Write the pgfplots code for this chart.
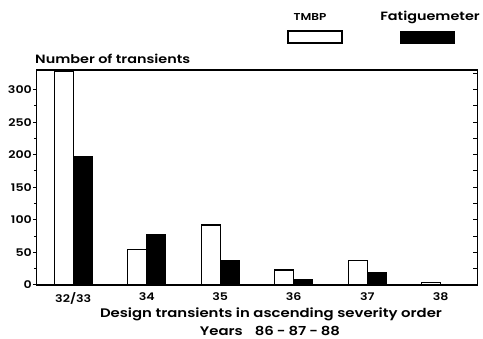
\documentclass[border=0pt]{standalone}
\usepackage{fontspec}
\setmainfont{Poppins}[BoldFont=* SemiBold, FakeStretch=1.2]
\usepackage{pgfplots}
\pgfplotsset{compat=1.18}
\begin{document}
\begin{tikzpicture}[x=1pt,y=1pt]
\useasboundingbox (0,0) rectangle (483,339);
\begin{axis}[at={(36.5pt,54pt)}, anchor=south west, width=441pt, height=215pt, scale only axis,
 xmin=-0.5, xmax=5.5, ymin=0, ymax=330,
 xtick={0,...,5}, xticklabels={32/33,34,35,36,37,38}, xtick pos=bottom,
 major x tick style={draw=none},
 ytick={0,50,...,300}, minor y tick num=1, ytick pos=left, tick align=outside,
 major tick length=3.5pt, minor tick length=2.5pt,
 axis line style={line width=1.3pt}, every tick/.style={line width=1pt,black},
 /pgf/number format/assume math mode=true,
 ticklabel style={font=\bfseries\fontsize{10.5}{12}\selectfont},
 yticklabel style={inner sep=1pt},
 xticklabel style={yshift=-1pt},
 ybar, bar width=0.26,
]
\addplot[draw=black, fill=white, line width=1.2pt, bar shift=-0.13] coordinates {(0,328) (1,54) (2,92) (3,23) (4,37) (5,4)};
\addplot[draw=black, fill=black, line width=0.8pt, bar shift=0.13] coordinates {(0,197) (1,77) (2,37) (3,9) (4,19)};
\end{axis}
\begin{axis}[at={(36.5pt,54pt)}, anchor=south west, width=441pt, height=215pt, scale only axis,
 xmin=-0.5, xmax=5.5, ymin=0, ymax=330, xtick=\empty,
 ytick={25,50,...,325}, yticklabels={}, ytick pos=right, tick align=inside,
 major tick length=4pt, axis line style={draw=none}, every tick/.style={line width=1pt,black}]
\end{axis}
\node[anchor=base west, font=\bfseries\fontsize{12}{14}\selectfont, inner sep=0pt] at (35,275.7) {Number of transients};
\node[anchor=base, font=\bfseries\fontsize{12.4}{14}\selectfont, inner sep=0pt] at (271,21) {Design transients in ascending severity order};
\node[anchor=base, font=\bfseries\fontsize{12.4}{14}\selectfont, inner sep=0pt] at (270,3.2) {Years\hspace{12pt}86\hspace{3pt}-\hspace{3pt}87\hspace{3pt}-\hspace{3pt}88};
\draw[line width=1.2pt, fill=white] (288,296) rectangle (342,308);
\fill (400,295) rectangle (455,308);
\node[anchor=base, font=\bfseries\fontsize{10}{11}\selectfont, inner sep=0pt] at (310,318.3) {TMBP};
\node[anchor=base, font=\bfseries\fontsize{12}{14}\selectfont, inner sep=0pt] at (430,318.3) {Fatiguemeter};
\end{tikzpicture}
\end{document}
